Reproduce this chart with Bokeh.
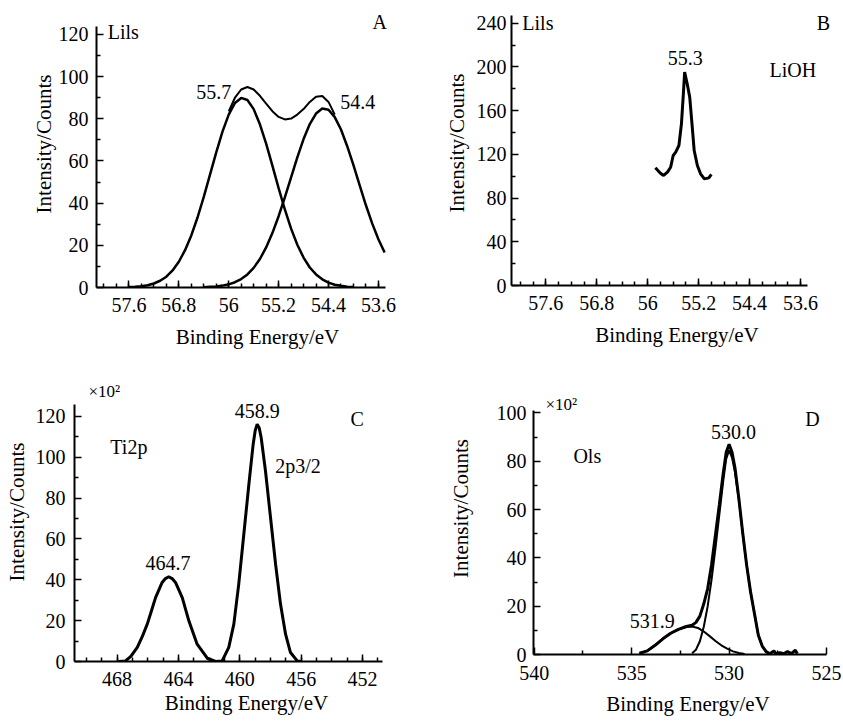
from bokeh.plotting import figure
from bokeh.layouts import column, row
from bokeh.models import Range1d, FixedTicker, Label
from bokeh.embed import file_html
from bokeh.resources import INLINE

FONT = "Liberation Serif"

# ---------------- Panel A : Li1s fit ----------------
a_c1_x = [57.6, 57.5, 57.4, 57.3, 57.2, 57.1, 57.0, 56.9, 56.8, 56.7, 56.6, 56.5, 56.4, 56.3,
          56.2, 56.1, 56.0, 55.9, 55.8, 55.7, 55.6, 55.5, 55.4, 55.3, 55.2, 55.1, 55.0, 54.9,
          54.8, 54.7, 54.6, 54.5, 54.4, 54.3, 54.2, 54.1, 54.0]
a_c1_y = [0.2, 0.3, 0.6, 1.1, 1.9, 3.2, 5.1, 8.1, 12.2, 17.7, 24.7, 33.2, 43.0, 53.5,
          64.1, 73.9, 82.0, 87.5, 89.9, 88.9, 84.6, 77.4, 68.2, 57.8, 47.1, 37.0, 27.9, 20.3,
          14.2, 9.5, 6.2, 3.9, 2.3, 1.3, 0.8, 0.4, 0.2]
a_c2_x = [56.4, 56.3, 56.2, 56.1, 56.0, 55.9, 55.8, 55.7, 55.6, 55.5, 55.4, 55.3, 55.2, 55.1,
          55.0, 54.9, 54.8, 54.7, 54.6, 54.5, 54.4, 54.3, 54.2, 54.1, 54.0, 53.9, 53.8, 53.7,
          53.6, 53.5]
a_c2_y = [0.1, 0.3, 0.5, 0.9, 1.5, 2.5, 4.0, 6.2, 9.3, 13.5, 19.0, 25.8, 33.8, 42.7,
          52.2, 61.7, 70.4, 77.5, 82.5, 84.9, 84.3, 80.8, 74.9, 67.0, 58.0, 48.4, 39.0, 30.4,
          22.9, 16.6]
a_env_x = [56.0, 55.9, 55.8, 55.7, 55.6, 55.5, 55.4, 55.3, 55.2, 55.1, 55.0, 54.9, 54.8,
           54.7, 54.6, 54.5, 54.4, 54.3]
a_env_y = [83.5, 90.0, 93.9, 95.1, 93.9, 90.9, 87.2, 83.6, 80.9, 79.7, 80.1, 82.0, 84.6,
           88.0, 90.5, 90.8, 88.0, 82.0]
ab_xticks = [57.6, 56.8, 56.0, 55.2, 54.4, 53.6]
ab_xtick_labels = ["57.6", "56.8", "56", "55.2", "54.4", "53.6"]

# ---------------- Panel B : LiOH ----------------
b_x = [55.88, 55.80, 55.75, 55.69, 55.64, 55.60, 55.56, 55.51, 55.47, 55.44, 55.42, 55.38,
       55.34, 55.30, 55.27, 55.22, 55.17, 55.11, 55.04, 55.00]
b_y = [107.7, 102.8, 100.7, 103.7, 108.2, 119.0, 122.0, 128.1, 148.0, 175.4, 195.2, 184.6,
       172.3, 144.8, 123.5, 109.8, 102.2, 97.6, 98.5, 101.6]

# ---------------- Panel C : Ti2p ----------------
c_x = [467.9, 467.45, 467.1, 466.68, 466.35, 466.03, 465.75, 465.49, 465.06, 464.85, 464.63,
       464.41, 464.19, 463.75, 463.32, 462.78, 462.12, 461.58, 461.15, 460.72, 460.39, 460.07,
       459.74, 459.41, 459.13, 459.0, 458.87, 458.74, 458.61, 458.33, 458.0, 457.67, 457.35,
       457.02, 456.70, 456.26, 456.0]
c_y = [0.0, 0.3, 2.5, 6.9, 12.3, 18.3, 25.0, 31.3, 38.7, 40.6, 41.5,
       40.6, 38.7, 31.3, 19.9, 8.5, 1.6, 0.0, 0.3, 6.9, 18.3, 37.9,
       62.3, 86.8, 106.4, 113.0, 116.2, 114.5, 109.7, 93.4, 70.5, 47.6, 28.1,
       13.4, 4.4, 0.3, 0.0]

# ---------------- Panel D : O1s ----------------
d_small_x = [534.6, 534.2, 533.8, 533.4, 533.0, 532.6, 532.2, 531.9, 531.6, 531.3, 531.0,
             530.7, 530.4, 530.1, 529.8, 529.5, 529.2]
d_small_y = [0.5, 1.5, 3.8, 6.5, 8.8, 10.4, 11.4, 11.6, 11.0, 9.5, 7.6,
             5.6, 3.8, 2.4, 1.3, 0.6, 0.2]
d_main_x = [531.9, 531.7, 531.5, 531.3, 531.1, 530.9, 530.7, 530.5, 530.3, 530.15, 530.0,
            529.85, 529.7, 529.5, 529.3, 529.1, 528.9, 528.7, 528.5, 528.3, 528.1, 527.9]
d_main_y = [0.5, 2.0, 5.5, 11.5, 20.0, 31.0, 44.0, 58.0, 72.0, 81.0, 84.5,
            81.5, 75.5, 64.0, 50.0, 37.0, 26.0, 17.0, 8.0, 3.5, 1.2, 0.3]
d_env_x = [534.6, 534.2, 533.8, 533.4, 533.0, 532.6, 532.2, 531.9, 531.7, 531.5, 531.3,
           531.1, 530.9, 530.7, 530.5, 530.3, 530.15, 530.0, 529.85, 529.7, 529.5, 529.3,
           529.1, 528.9, 528.7, 528.5, 528.3, 528.1, 527.9, 527.7, 527.6, 527.4, 527.2,
           527.0, 526.8, 526.6, 526.5]
d_env_y = [0.5, 1.5, 3.8, 6.5, 8.8, 10.4, 11.6, 12.1, 13.3, 15.9, 21.0,
           27.3, 37.2, 49.6, 62.1, 75.2, 83.7, 87.0, 83.7, 77.3, 64.6, 50.2,
           37.0, 26.0, 17.0, 8.0, 3.5, 1.2, 0.3, 1.5, 0.2, 0.8, 0.3,
           1.2, 0.4, 1.8, 0.3]


def make_fig(w, h, xr, yr, xb, yb, borders, xticks, xminor, yticks, yminor, xlabels=None,
             lstand=8, lab_stand=4, bstand=6, blab_stand=8):
    p = figure(width=w, height=h, x_range=Range1d(*xr), y_range=Range1d(*yr),
               output_backend="svg", toolbar_location=None, frame_align=False,
               min_border_left=borders[0], min_border_right=borders[1],
               min_border_top=borders[2], min_border_bottom=borders[3])
    p.outline_line_color = None
    p.xgrid.visible = False
    p.ygrid.visible = False
    p.background_fill_color = "white"
    p.border_fill_color = "white"
    p.xaxis.ticker = FixedTicker(ticks=xticks, minor_ticks=xminor)
    p.yaxis.ticker = FixedTicker(ticks=yticks, minor_ticks=yminor)
    p.xaxis.bounds = xb
    p.yaxis.bounds = yb
    if xlabels is not None:
        p.xaxis.major_label_overrides = dict(zip(xticks, xlabels))
    for ax in (p.xaxis[0], p.yaxis[0]):
        ax.axis_line_width = 2
        ax.axis_line_color = "black"
        ax.major_tick_in = 7
        ax.major_tick_out = 0
        ax.minor_tick_in = 4
        ax.minor_tick_out = 0
        ax.major_tick_line_color = "black"
        ax.minor_tick_line_color = "black"
        ax.major_tick_line_width = 1.5
        ax.minor_tick_line_width = 1.5
        ax.major_label_text_font = FONT
        ax.major_label_text_font_size = "20px"
        ax.major_label_text_color = "black"
        ax.axis_label_text_font = FONT
        ax.axis_label_text_font_size = "21px"
        ax.axis_label_text_font_style = "normal"
        ax.axis_label_text_color = "black"
    p.yaxis.axis_label = "Intensity/Counts"
    p.xaxis.axis_label = "Binding Energy/eV"
    p.yaxis.major_label_standoff = lstand
    p.yaxis.axis_label_standoff = lab_stand
    p.xaxis.major_label_standoff = bstand
    p.xaxis.axis_label_standoff = blab_stand
    return p


def lab(p, x, y, text, align="center", size="20px"):
    p.add_layout(Label(x=x, y=y, text=text, text_font=FONT, text_font_size=size,
                       text_align=align, text_baseline="middle", text_color="black"))


ab_minor = [round(58.0 - 0.2 * i, 1) for i in range(23)]

# Panel A
pA = make_fig(418, 362, (58.12, 52.957), (0, 136.1), (53.49, 58.12), (0, 124),
              (96, 0, 0, 75),
              ab_xticks, ab_minor, list(range(0, 121, 20)), list(range(10, 121, 20)),
              xlabels=ab_xtick_labels, lstand=8, lab_stand=0, bstand=10, blab_stand=10)
pA.line(a_c1_x, a_c1_y, line_color="black", line_width=2.5)
pA.line(a_c2_x, a_c2_y, line_color="black", line_width=2.5)
pA.line(a_env_x, a_env_y, line_color="black", line_width=2)
lab(pA, 56.24, 92.5, "55.7")
lab(pA, 53.93, 88.2, "54.4")
lab(pA, 57.94, 121, "Lils", align="left")
lab(pA, 53.58, 125.7, "A")

# Panel B
pB = make_fig(424, 362, (58.14, 52.94), (0, 260.8), (53.49, 58.14), (0, 247),
              (93, 0, 0, 77),
              ab_xticks, ab_minor, list(range(0, 241, 40)), list(range(20, 241, 40)),
              xlabels=ab_xtick_labels, lstand=5, lab_stand=5, bstand=10, blab_stand=10)
pB.line(b_x, b_y, line_color="black", line_width=3)
lab(pB, 57.97, 240.2, "Lils", align="left")
lab(pB, 53.24, 240.2, "B")
lab(pB, 55.41, 208.2, "55.3")
lab(pB, 53.72, 197.6, "LiOH")

# Panel C
pC = make_fig(418, 358, (470.77, 448.36), (0, 146.4), (450.72, 470.77), (0, 126),
              (74, 0, 0, 59),
              [468, 464, 460, 456, 452], list(range(451, 471)),
              list(range(0, 121, 20)), list(range(10, 121, 20)),
              lstand=9, lab_stand=4, bstand=10, blab_stand=2)
pC.line(c_x, c_y, line_color="black", line_width=3)
lab(pC, 469.86, 132.2, "×10²", align="left", size="17px")
lab(pC, 458.87, 122.8, "458.9")
lab(pC, 452.35, 118.5, "C")
lab(pC, 467.23, 104.8, "Ti2p")
lab(pC, 456.21, 95.5, "2p3/2")
lab(pC, 464.68, 48.0, "464.7")

# Panel D
pD = make_fig(424, 358, (540.04, 524.18), (0, 120.9), (524.98, 540.04), (0, 101),
              (115, 0, 0, 66),
              [540, 535, 530, 525], [537.5, 532.5, 527.5],
              list(range(0, 101, 20)), list(range(10, 101, 20)),
              lstand=7, lab_stand=21, bstand=11, blab_stand=9)
pD.line(d_small_x, d_small_y, line_color="black", line_width=2)
pD.line(d_main_x, d_main_y, line_color="black", line_width=2)
pD.line(d_env_x, d_env_y, line_color="black", line_width=3)
lab(pD, 539.43, 103.5, "×10²", align="left", size="17px")
lab(pD, 525.72, 97.3, "D")
lab(pD, 529.78, 92.3, "530.0")
lab(pD, 537.28, 82.0, "Ols")
lab(pD, 533.94, 13.7, "531.9")

layout = column(row(pA, pB), row(pC, pD))
open("out.html", "w").write(file_html(layout, INLINE))
